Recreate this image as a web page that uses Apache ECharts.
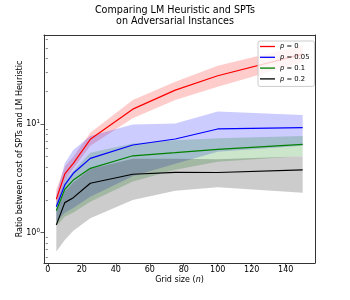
<!DOCTYPE html>
<html>
<head>
<meta charset="utf-8">
<script src="https://cdn.jsdelivr.net/npm/echarts@6/dist/echarts.min.js"></script>
<style>
html,body{margin:0;padding:0;background:#fff;}
#chart{width:350px;height:300px;}
</style>
</head>
<body>
<div id="chart"></div>
<script>
// ---- data ----
const gridSizes = [5, 10, 15, 25, 50, 75, 100, 150];
const seriesNames = ['p = 0', 'p = 0.05', 'p = 0.1', 'p = 0.2'];

const mean_p0   = [2.03, 3.47, 4.35, 7.23, 13.7, 20.5, 27.8, 44];
const lower_p0  = [1.75, 3.0, 3.9, 6.3, 11.3, 16.6, 22, 37];
const upper_p0  = [2.5, 4.05, 5.0, 8.3, 16.6, 24.5, 34.4, 53];

const mean_p005  = [1.73, 2.75, 3.52, 4.83, 6.41, 7.28, 9.0, 9.25];
const lower_p005 = [1.26, 1.52, 1.69, 2.14, 3.3, 4.3, 5.55, 6.31];
const upper_p005 = [2.22, 4.35, 5.77, 7.76, 9.9, 10.1, 13, 12.1];

const mean_p01  = [1.59, 2.51, 3.05, 3.91, 5.1, 5.45, 5.85, 6.5];
const lower_p01 = [1.15, 1.40, 1.53, 1.93, 2.95, 3.8, 4.5, 5.08];
const upper_p01 = [1.9, 3.0, 3.7, 5.44, 6.6, 7.1, 7.4, 7.76];

const mean_p02  = [1.18, 1.89, 2.10, 2.85, 3.45, 3.59, 3.58, 3.78];
const lower_p02 = [0.67, 0.857, 1.04, 1.36, 2.0, 2.43, 2.62, 2.33];
const upper_p02 = [1.55, 2.4, 2.9, 3.85, 4.8, 4.8, 4.75, 5.05];

const xTicks = [0, 20, 40, 60, 80, 100, 120, 140];
const yMajorTicks = [1, 10];
const yMinorTicks = [0.6, 0.7, 0.8, 0.9, 2, 3, 4, 5, 6, 7, 8, 9, 20, 30, 40, 50, 60];

// ---- styling ----
const lineColors = ['#ff0000', '#0000ff', '#008000', '#000000'];
const fillColors = ['rgba(255,0,0,0.2)', 'rgba(0,0,255,0.2)', 'rgba(0,128,0,0.2)', 'rgba(0,0,0,0.2)'];
const means = [mean_p0, mean_p005, mean_p01, mean_p02];
const lowers = [lower_p0, lower_p005, lower_p01, lower_p02];
const uppers = [upper_p0, upper_p005, upper_p01, upper_p02];

const FONT = 'DejaVu Sans';
const frameColor = '#333';
const X_MIN = -2.25, X_MAX = 157.25, Y_MIN = 0.526, Y_MAX = 65.9;

const series = [];
for (let k = 0; k < 4; k++) {
  series.push({
    name: seriesNames[k],
    type: 'line',
    data: gridSizes.map((x, i) => [x, means[k][i]]),
    symbol: 'none',
    lineStyle: { color: lineColors[k], width: 1.2 },
    itemStyle: { color: lineColors[k] },
    z: 2
  });
  const lo = lowers[k], hi = uppers[k], fill = fillColors[k];
  series.push({
    type: 'custom',
    silent: true,
    clip: true,
    z: 2,
    data: [[gridSizes[0], lo[0]]],
    renderItem: function (params, api) {
      const pts = [];
      for (let i = 0; i < gridSizes.length; i++) pts.push(api.coord([gridSizes[i], hi[i]]));
      for (let i = gridSizes.length - 1; i >= 0; i--) pts.push(api.coord([gridSizes[i], lo[i]]));
      return { type: 'polygon', shape: { points: pts }, style: { fill: fill, stroke: null } };
    }
  });
}

const frameAxisLine = { show: true, onZero: false, lineStyle: { color: frameColor, width: 1 } };

const chart = echarts.init(document.getElementById('chart'), null, { renderer: 'canvas' });
chart.setOption({
  backgroundColor: '#ffffff',
  animation: false,
  title: {
    text: 'Comparing LM Heuristic and SPTs\non Adversarial Instances',
    left: 'center',
    top: 5,
    padding: 0,
    textStyle: { fontFamily: FONT, fontSize: 9.6, fontWeight: 'normal', color: '#000', lineHeight: 11 }
  },
  grid: { left: 44, right: 35, top: 35, bottom: 37 },
  legend: {
    data: seriesNames,
    orient: 'vertical',
    left: 258,
    top: 41,
    padding: [1, 5, 3, 2],
    itemGap: 1.8,
    itemWidth: 15,
    itemHeight: 1.3,
    icon: 'rect',
    backgroundColor: 'rgba(255,255,255,0.8)',
    borderColor: '#cccccc',
    borderWidth: 1,
    borderRadius: 2,
    formatter: function (n) { return n.replace('p', '{i|p}'); },
    textStyle: {
      fontFamily: FONT, fontSize: 6.8, color: '#000', lineHeight: 9,
      rich: { i: { fontFamily: FONT, fontStyle: 'italic', fontSize: 6.8, lineHeight: 9 } }
    }
  },
  xAxis: [
    {
      type: 'value',
      min: X_MIN,
      max: X_MAX,
      name: '{a|Grid size (}{i|n}{a|)}',
      nameLocation: 'middle',
      nameGap: 12.5,
      nameMoveOverlap: false,
      nameTextStyle: {
        fontFamily: FONT, fontSize: 8, color: '#000', verticalAlign: 'top',
        rich: {
          a: { fontFamily: FONT, fontSize: 8, color: '#000' },
          i: { fontFamily: FONT, fontSize: 8, color: '#000', fontStyle: 'italic' }
        }
      },
      axisLine: frameAxisLine,
      axisTick: { show: true, customValues: xTicks, length: 3.5, lineStyle: { color: frameColor, width: 0.8 } },
      axisLabel: { customValues: xTicks, margin: 3, fontFamily: FONT, fontSize: 8, color: '#000' },
      splitLine: { show: false }
    },
    {
      type: 'value',
      min: X_MIN,
      max: X_MAX,
      position: 'top',
      axisLine: frameAxisLine,
      axisTick: { show: false },
      axisLabel: { show: false },
      splitLine: { show: false }
    }
  ],
  yAxis: [
    {
      type: 'log',
      logBase: 10,
      min: Y_MIN,
      max: Y_MAX,
      name: 'Ratio between cost of SPTs and LM Heuristic',
      nameLocation: 'middle',
      nameGap: 20,
      nameMoveOverlap: false,
      nameTextStyle: { fontFamily: FONT, fontSize: 8, color: '#000' },
      axisLine: frameAxisLine,
      axisTick: { show: true, customValues: yMajorTicks, length: 3.5, lineStyle: { color: frameColor, width: 0.8 } },
      axisLabel: {
        customValues: yMajorTicks,
        margin: 4,
        formatter: function (v) {
          const e = Math.round(Math.log10(v));
          return '{b|10}{s|' + e + '}';
        },
        rich: {
          b: { fontFamily: FONT, fontSize: 8, color: '#000' },
          s: { fontFamily: FONT, fontSize: 5.6, color: '#000', padding: [0, 0, 5, 0] }
        }
      },
      splitLine: { show: false }
    },
    {
      type: 'log',
      logBase: 10,
      min: Y_MIN,
      max: Y_MAX,
      position: 'left',
      axisLine: { show: false },
      axisTick: { show: true, customValues: yMinorTicks, length: 2, lineStyle: { color: frameColor, width: 0.6 } },
      axisLabel: { show: false },
      splitLine: { show: false }
    },
    {
      type: 'log',
      logBase: 10,
      min: Y_MIN,
      max: Y_MAX,
      position: 'right',
      axisLine: frameAxisLine,
      axisTick: { show: false },
      axisLabel: { show: false },
      splitLine: { show: false }
    }
  ],
  series: series
});
</script>
</body>
</html>
